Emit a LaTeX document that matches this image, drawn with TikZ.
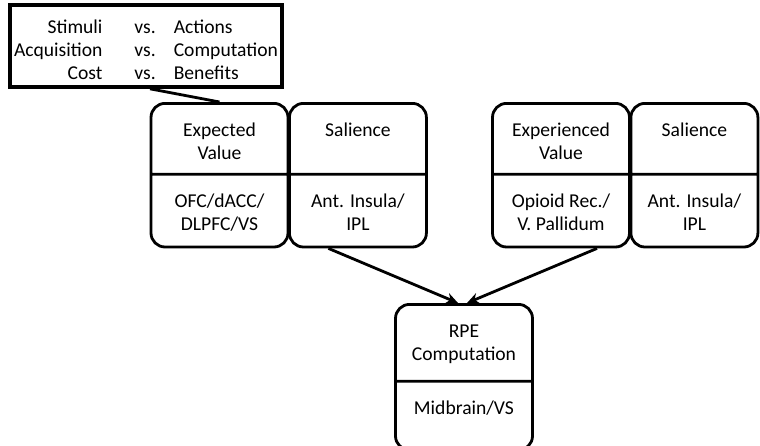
\documentclass[tikz,border=0pt]{standalone}
\usepackage{fontspec}
\setmainfont{Carlito}
\usetikzlibrary{arrows.meta,positioning,shapes.multipart}

\newcommand{\cellbox}[3]{\parbox[c][#2][t]{#1}{\centering\rule{0pt}{15.7pt}#3}}

\begin{document}
\begin{tikzpicture}[
  x=1pt,y=1pt,
  font=\fontsize{9.8}{11.6}\selectfont,
  unit/.style={draw,line width=1.4pt,rounded corners=7pt,rectangle split,
    rectangle split parts=2,inner sep=0pt,anchor=north},
  ctxbox/.style={draw,line width=1.8pt,minimum width=136pt,minimum height=41pt,inner sep=0pt},
  link/.style={line width=1.4pt},
  arr/.style={-{Stealth[length=6pt,width=5.5pt]},line width=1.4pt},
]
  \useasboundingbox (0,0) rectangle (380,-222.5);

  % context box
  \node[ctxbox] (ctx) at (73,-23) {%
    \begin{tabular}{@{}r@{\hspace{16pt}}l@{\hspace{9pt}}l@{}}
      \rule{0pt}{14pt}Stimuli & vs. & Actions\\
      Acquisition & vs. & Computation\\
      Cost & vs. & Benefits
    \end{tabular}};

  % anticipation
  \node[unit] (ev) at (109.75,-51)
    {\cellbox{68.5pt}{34pt}{Expected\\Value}\nodepart{two}\cellbox{68.5pt}{35pt}{OFC/dACC/\\DLPFC/VS}};
  \node[unit,anchor=west,right=-0.7pt of ev] (sal1)
    {\cellbox{68.5pt}{34pt}{Salience}\nodepart{two}\cellbox{68.5pt}{35pt}{Ant. Insula/\\IPL}};

  % consumption
  \node[unit] (exv) at (280.5,-51)
    {\cellbox{68.5pt}{34pt}{Experienced\\Value}\nodepart{two}\cellbox{68.5pt}{35pt}{Opioid Rec./\\V. Pallidum}};
  \node[unit,anchor=west,right=-0.7pt of exv] (sal2)
    {\cellbox{63.5pt}{34pt}{Salience}\nodepart{two}\cellbox{63.5pt}{35pt}{Ant. Insula/\\IPL}};

  % prediction error
  \node[unit] (rpe) at (232,-151.5)
    {\cellbox{68.5pt}{37pt}{RPE\\Computation}\nodepart{two}\cellbox{68.5pt}{33pt}{Midbrain/VS}};

  \draw[link] ([xshift=2pt]ctx.south) -- (ev.north);
  \draw[arr] ([xshift=-14.75pt]sal1.south) -- ([xshift=-3pt]rpe.north);
  \draw[arr] ([xshift=18pt]exv.south) -- ([xshift=1.5pt]rpe.north);
\end{tikzpicture}
\end{document}
